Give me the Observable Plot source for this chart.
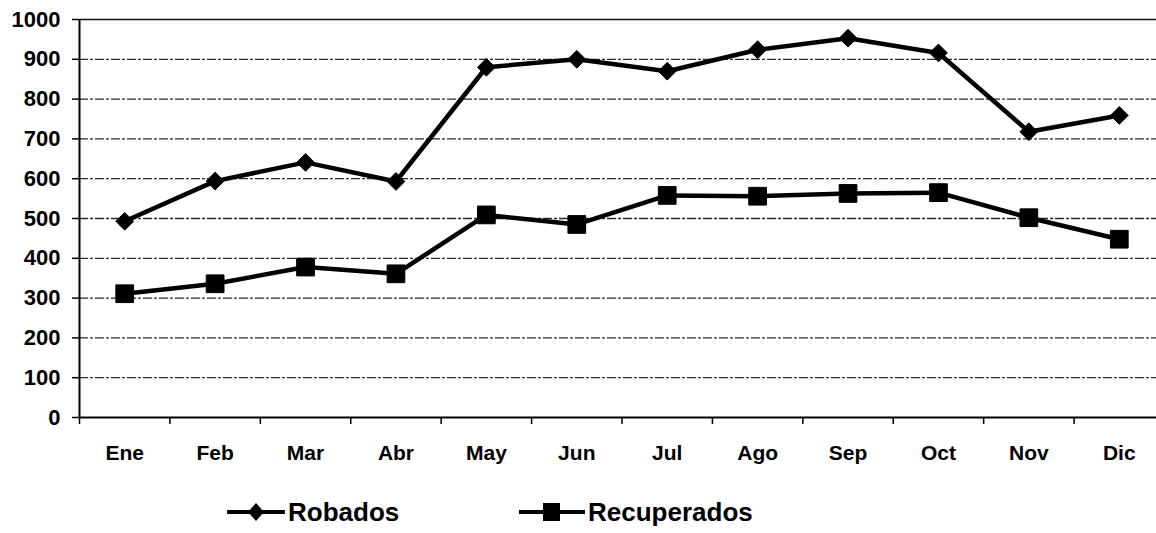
<!DOCTYPE html>
<html>
<head>
<meta charset="utf-8">
<script src="https://cdn.jsdelivr.net/npm/d3@7"></script>
<script src="https://cdn.jsdelivr.net/npm/@observablehq/plot@0.6"></script>
<style>
  html, body { margin: 0; padding: 0; background: #fff; }
  body { width: 1156px; height: 533px; overflow: hidden; font-family: "Liberation Sans", Arial, sans-serif; }
  #chart svg { display: block; }
  #legend { position: relative; height: 53px; font-weight: bold; font-size: 26px; color: #000; }
  .item { position: absolute; top: 17px; display: flex; align-items: center; height: 30px; }
  .item svg { display: block; }
</style>
</head>
<body>
<div id="chart"></div>
<div id="legend"></div>
<script>
const months = ["Ene", "Feb", "Mar", "Abr", "May", "Jun", "Jul", "Ago", "Sep", "Oct", "Nov", "Dic"];
const robados = [493, 594, 641, 593, 880, 900, 870, 924, 953, 916, 718, 759];
const recuperados = [311, 336, 378, 361, 509, 485, 558, 556, 563, 565, 502, 448];
const yTicks = [0, 100, 200, 300, 400, 500, 600, 700, 800, 900, 1000];
const seriesNames = ["Robados", "Recuperados"];

const robData = months.map((m, i) => ({i, m, v: robados[i]}));
const recData = months.map((m, i) => ({i, m, v: recuperados[i]}));
const boundaries = d3.range(0, months.length + 1);
const centers = months.map((m, i) => i + 0.5);

const font = "'Liberation Sans', Arial, sans-serif";

const chart = Plot.plot({
  width: 1156,
  height: 480,
  marginLeft: 79,
  marginRight: 0,
  marginTop: 19,
  marginBottom: 63,
  style: {fontFamily: font, background: "white", color: "black", overflow: "hidden"},
  x: {type: "linear", domain: [0, 12], range: [79, 1164]},
  y: {domain: [0, 1000], range: [417, 19]},
  marks: [
    Plot.ruleY(yTicks.filter(d => d > 0 && d < 1000), {stroke: "#2a2a2a", strokeWidth: 1.3, strokeDasharray: "9,2,3,2"}),
    Plot.ruleY([1000], {stroke: "#111", strokeWidth: 1.6}),
    Plot.axisY(yTicks, {anchor: "left", label: null, tickSize: 7, tickPadding: 12, fontSize: 22, fontWeight: "bold", stroke: "black", strokeWidth: 1.5, tickFormat: d => String(d), fill: "black"}),
    Plot.axisX(boundaries, {anchor: "bottom", label: null, tickSize: 7, tickFormat: () => "", strokeWidth: 1.5, stroke: "black"}),
    Plot.axisX(centers, {anchor: "bottom", label: null, tickSize: 0, tickPadding: 28, fontSize: 21, fontWeight: "bold", fill: "black", tickFormat: d => months[Math.floor(d)]}),
    Plot.ruleY([0], {stroke: "black", strokeWidth: 2}),
    Plot.ruleX([0], {stroke: "black", strokeWidth: 2}),
    Plot.line(robData, {x: d => d.i + 0.5, y: "v", stroke: "black", strokeWidth: 4.5}),
    Plot.line(recData, {x: d => d.i + 0.5, y: "v", stroke: "black", strokeWidth: 4.5}),
    Plot.dot(robData, {x: d => d.i + 0.5, y: "v", symbol: "diamond2", r: 8, fill: "black", stroke: "black", strokeWidth: 1}),
    Plot.dot(recData, {x: d => d.i + 0.5, y: "v", symbol: "square", r: 10, fill: "black", stroke: "black", strokeWidth: 1})
  ]
});
document.getElementById("chart").appendChild(chart);

// Legend
const legend = document.getElementById("legend");
const icons = [
  `<svg width="58" height="30"><line x1="0" y1="15" x2="58" y2="15" stroke="black" stroke-width="4"/><path d="M29,6 L37,15 L29,24 L21,15 Z" fill="black"/></svg>`,
  `<svg width="66" height="30"><line x1="0" y1="15" x2="66" y2="15" stroke="black" stroke-width="4"/><rect x="24" y="6" width="17" height="18" fill="black"/></svg>`
];
const lefts = [227, 519];
seriesNames.forEach((name, k) => {
  const div = document.createElement("div");
  div.className = "item";
  div.style.left = lefts[k] + "px";
  div.innerHTML = icons[k] + `<span style="margin-left:3px">${name}</span>`;
  legend.appendChild(div);
});
</script>
</body>
</html>
